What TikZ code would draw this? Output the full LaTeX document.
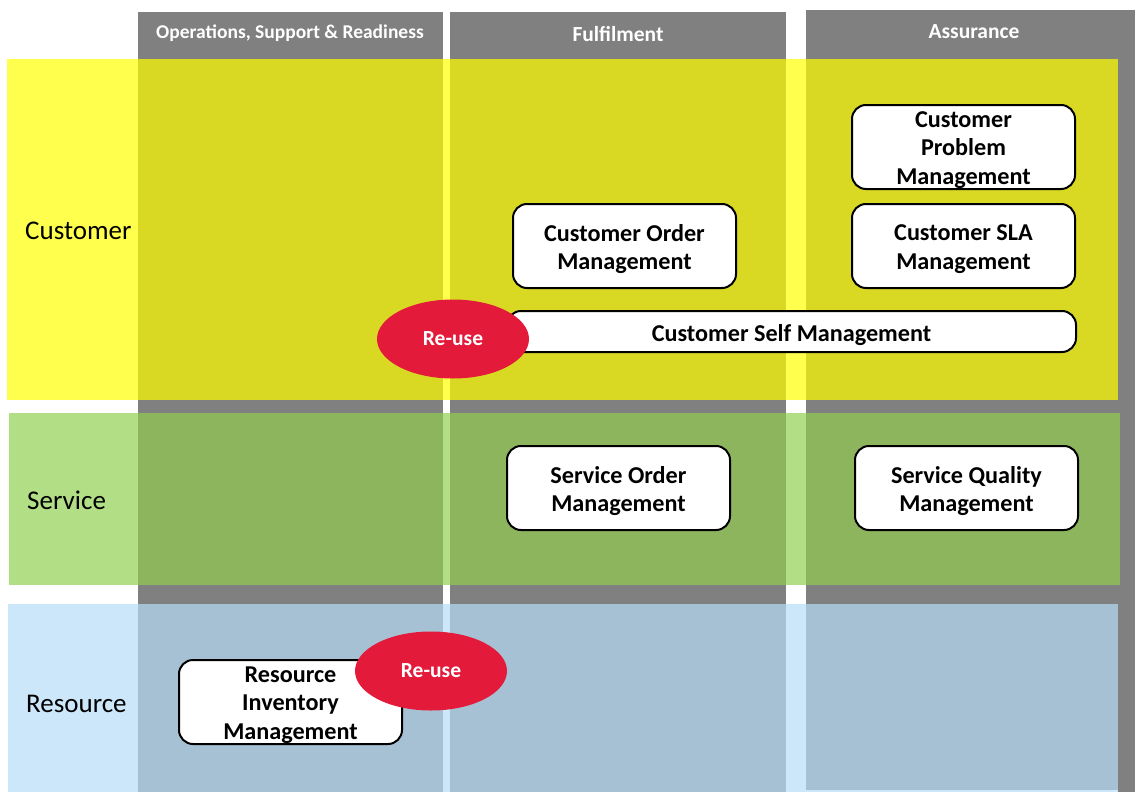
\documentclass[tikz,border=0pt]{standalone}
\usepackage{fontspec}
\setmainfont{Carlito}
\usetikzlibrary{shapes.geometric}
\definecolor{colgray}{HTML}{808080}
\definecolor{yellowL}{HTML}{FFFF4D}
\definecolor{yellowD}{HTML}{D9D924}
\definecolor{greenL}{HTML}{B2DF86}
\definecolor{greenD}{HTML}{8DB55E}
\definecolor{blueL}{HTML}{CCE7F9}
\definecolor{blueD}{HTML}{A7C1D4}
\definecolor{reuse}{HTML}{E31A3A}
\tikzset{
  proc/.style={draw=black, line width=2pt, fill=white, rounded corners=14pt, inner sep=0pt,
    minimum width=223pt, minimum height=84pt},
  proctext/.style={align=center, font=\fontsize{24.2}{28.5}\selectfont\bfseries, inner sep=0pt, yshift=-3pt},
  reusenode/.style={ellipse, fill=reuse, text=white, font=\fontsize{21.5}{24}\selectfont\bfseries,
    minimum width=152pt, minimum height=79pt, inner sep=0pt},
  hdr/.style={text=white, font=\fontsize{21.5}{24}\selectfont\bfseries},
  rowlabel/.style={anchor=west, font=\fontsize{27}{30}\selectfont, inner sep=0pt}
}
\begin{document}
\begin{tikzpicture}[x=1pt,y=-1pt]
\useasboundingbox (0,0) rectangle (1135,792);
% columns
\fill[colgray] (138,12) rectangle (443,792);
\fill[colgray] (450,12) rectangle (786,792);
\fill[colgray] (806,10) rectangle (1135,792);
% headers
\node[hdr, font=\fontsize{19.5}{22}\selectfont\bfseries] (h1) at (290,33) {Operations, Support \& Readiness};
\node[hdr] (h2) at (618,34) {Fulfilment};
\node[hdr] (h3) at (974,32) {Assurance};
% customer row
\fill[yellowL] (7,59) rectangle (1118,400);
\fill[yellowD] (138,59) rectangle (443,400);
\fill[yellowD] (450,59) rectangle (786,400);
\fill[yellowD] (806,59) rectangle (1118,400);
% service row
\fill[greenL] (9,413) rectangle (1120,585);
\fill[greenD] (138,413) rectangle (443,585);
\fill[greenD] (450,413) rectangle (786,585);
\fill[greenD] (806,413) rectangle (1120,585);
% resource row
\fill[blueL] (8,604) rectangle (1118,792);
\fill[blueD] (138,604) rectangle (443,792);
\fill[blueD] (450,604) rectangle (786,792);
\fill[blueD] (806,604) rectangle (1118,790);
% row labels
\node[rowlabel] (lc) at (25,231) {Customer};
\node[rowlabel] (ls) at (27,500) {Service};
\node[rowlabel] (lr) at (26,704) {Resource};
% process boxes
\node[proc] (cpm) at (963.5,147) {};
\node[proctext] (cpmt) at (cpm.center) {Customer\\Problem\\Management};
\node[proc] (com) at (624.5,246) {};
\node[proctext] (comt) at (com.center) {Customer Order\\Management};
\node[proc] (csla) at (963.5,246) {};
\node[proctext] (cslat) at (csla.center) {Customer SLA\\Management};
\node[proc, minimum width=569pt, minimum height=41pt] (csm) at (791.5,331.5) {};
\node[proctext, yshift=-1pt] (csmt) at (csm.center) {Customer Self Management};
\node[proc] (som) at (618.5,488) {};
\node[proctext] (somt) at (som.center) {Service Order\\Management};
\node[proc] (sqm) at (966.5,488) {};
\node[proctext] (sqmt) at (sqm.center) {Service Quality\\Management};
\node[proc] (rim) at (290.5,702) {};
\node[proctext] (rimt) at (rim.center) {Resource\\Inventory\\Management};
% re-use
\node[reusenode] (r1) at (453,339) {\raisebox{-1pt}{Re-use}};
\node[reusenode] (r2) at (431,671) {\raisebox{-1pt}{Re-use}};
\end{tikzpicture}
\end{document}
